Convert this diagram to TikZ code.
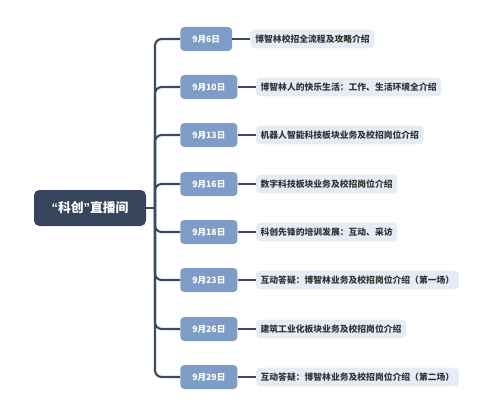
\documentclass[tikz,border=0pt]{standalone}
\usepackage{fontspec}
\setmainfont{Noto Sans CJK SC}
\newfontfamily\quotefont{Liberation Sans}
\definecolor{rootc}{HTML}{36455C}
\definecolor{datec}{HTML}{7F9CC8}
\definecolor{textbg}{HTML}{E6ECF5}
\definecolor{linec}{HTML}{3A4A5F}
\definecolor{txtc}{HTML}{333333}
\begin{document}
\begin{tikzpicture}[x=0.75pt,y=-0.75pt,
  rootbox/.style={fill=rootc,rounded corners=4pt,text=white,font=\fontsize{9.6}{10}\selectfont\bfseries,minimum width=84pt,minimum height=27pt,inner sep=0pt},
  datebox/.style={fill=datec,rounded corners=3pt,text=white,font=\fontsize{6.5}{7}\selectfont\bfseries,minimum height=18pt,inner xsep=9pt,inner ysep=0pt,anchor=west},
  topicbox/.style={fill=textbg,rounded corners=3pt,text=txtc,font=\fontsize{6.6}{7}\selectfont\bfseries,minimum height=14pt,inner xsep=3.5pt,inner ysep=0pt,anchor=west},
  trunkline/.style={draw=linec,line width=1.6pt,rounded corners=5pt},
  linkline/.style={draw=linec,line width=1pt}]
\useasboundingbox (0,0) rectangle (484,417);
\node[rootbox] (root) at (90,208) {{\quotefont\bfseries “}科创{\quotefont\bfseries ”}直播间};
\coordinate (trunk) at (155,208);
\draw[trunkline] (root.east) -- (trunk);
\foreach \i/\y/\d/\t in {
  1/39/9月6日/博智林校招全流程及攻略介绍,
  2/87/9月10日/博智林人的快乐生活：工作、生活环境全介绍,
  3/135/9月13日/机器人智能科技板块业务及校招岗位介绍,
  4/184/9月16日/数字科技板块业务及校招岗位介绍,
  5/232/9月18日/科创先锋的培训发展：互动、采访,
  6/280/9月23日/互动答疑：博智林业务及校招岗位介绍（第一场）,
  7/329/9月26日/建筑工业化板块业务及校招岗位介绍,
  8/377/9月29日/互动答疑：博智林业务及校招岗位介绍（第二场）}{
  \node[datebox] (d\i) at (180,\y) {\d};
  \node[topicbox] (t\i) at ([xshift=13.5pt]d\i.east) {\t};
  \draw[trunkline] (trunk) |- (d\i.west);
  \draw[linkline] (d\i.east) -- (t\i.west);
}
\end{tikzpicture}
\end{document}
